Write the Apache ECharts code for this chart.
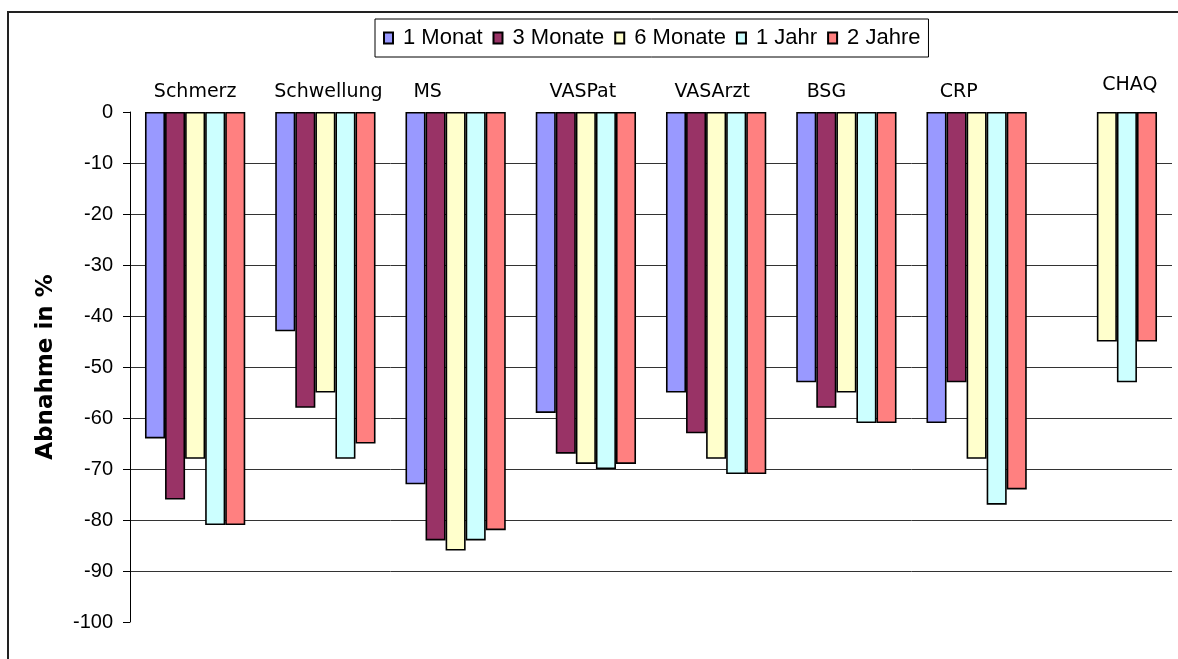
<!DOCTYPE html>
<html>
<head>
<meta charset="utf-8">
<script src="https://cdn.jsdelivr.net/npm/echarts@6/dist/echarts.min.js"></script>
<style>
  html, body { margin: 0; padding: 0; background: #fff; }
  #chart { width: 1178px; height: 659px; }
</style>
</head>
<body>
<div id="chart"></div>
<script>
// Parameters measured, percentage decrease relative to baseline
const categories = ['Schmerz', 'Schwellung', 'MS', 'VASPat', 'VASArzt', 'BSG', 'CRP', 'CHAQ'];
const seriesNames = ['1 Monat', '3 Monate', '6 Monate', '1 Jahr', '2 Jahre'];
const monat1  = [-64, -43, -73, -59, -55, -53, -61, null];
const monate3 = [-76, -58, -84, -67, -63, -58, -53, null];
const monate6 = [-68, -55, -86, -69, -68, -55, -68, -45];
const jahr1   = [-81, -68, -84, -70, -71, -61, -77, -53];
const jahre2  = [-81, -65, -82, -69, -71, -61, -74, -45];
const yTicks = { min: -100, max: 0, interval: 10 };

const seriesValues = [monat1, monate3, monate6, jahr1, jahre2];
const colors = ['#9999FF', '#993366', '#FFFFCC', '#CCFFFF', '#FF8080'];

// Per-label nudges for the category captions above the bars
const labelPad = {
  Schmerz: [0, 0, 0, 0],
  Schwellung: [0, 0, 0, 6],
  MS: [0, 56, 0, 0],
  VASPat: [0, 6, 0, 0],
  VASArzt: [0, 8, 0, 0],
  BSG: [0, 40, 0, 0],
  CRP: [0, 36, 0, 0],
  CHAQ: [0, 0, 7, 46]
};
const rich = {};
categories.forEach((c, i) => {
  rich['c' + i] = {
    fontFamily: 'DejaVu Sans',
    fontSize: 19,
    color: '#000',
    padding: labelPad[c]
  };
});

const chart = echarts.init(document.getElementById('chart'), null, { renderer: 'canvas' });

chart.setOption({
  backgroundColor: '#fff',
  animation: false,
  graphic: [{
    type: 'rect',
    shape: { x: 8, y: 12, width: 1200, height: 700 },
    style: { fill: 'none', stroke: '#222', lineWidth: 2 },
    silent: true,
    z: -1
  }],
  legend: {
    data: seriesNames,
    left: 375,
    top: 19,
    orient: 'horizontal',
    itemWidth: 9,
    itemHeight: 11,
    itemGap: 10,
    padding: [8, 8, 8, 8],
    borderColor: '#000',
    borderWidth: 1,
    backgroundColor: '#fff',
    icon: 'rect',
    textStyle: {
      fontFamily: 'Liberation Sans, Arial, sans-serif',
      fontSize: 22,
      color: '#000',
      padding: [0, 0, 0, 5]
    }
  },
  grid: {
    left: 130,
    top: 112,
    width: 1042,
    height: 510,
    containLabel: false
  },
  xAxis: {
    type: 'category',
    position: 'top',
    data: categories,
    axisLine: { show: false },
    axisTick: { show: false },
    axisLabel: {
      margin: 10,
      interval: 0,
      formatter: (v) => '{c' + categories.indexOf(v) + '|' + v + '}',
      rich: rich
    }
  },
  yAxis: {
    type: 'value',
    min: yTicks.min,
    max: yTicks.max,
    interval: yTicks.interval,
    name: 'Abnahme in %',
    nameLocation: 'middle',
    nameGap: 72,
    nameRotate: 90,
    nameTextStyle: {
      fontFamily: 'DejaVu Sans',
      fontWeight: 'bold',
      fontSize: 23,
      color: '#000'
    },
    axisLine: { show: true, lineStyle: { color: '#000', width: 1 } },
    axisTick: { show: true, inside: false, length: 7, lineStyle: { color: '#000', width: 1 } },
    axisLabel: {
      margin: 17,
      fontFamily: 'Liberation Sans, Arial, sans-serif',
      fontSize: 20,
      color: '#000'
    },
    splitLine: {
      show: true,
      showMinLine: false,
      showMaxLine: false,
      lineStyle: { color: '#333', width: 1 }
    }
  },
  series: seriesNames.map((name, i) => ({
    name: name,
    type: 'bar',
    data: seriesValues[i],
    barGap: '0%',
    barCategoryGap: '23%',
    itemStyle: {
      color: colors[i],
      borderColor: '#000',
      borderWidth: 1.6
    }
  }))
});
</script>
</body>
</html>
